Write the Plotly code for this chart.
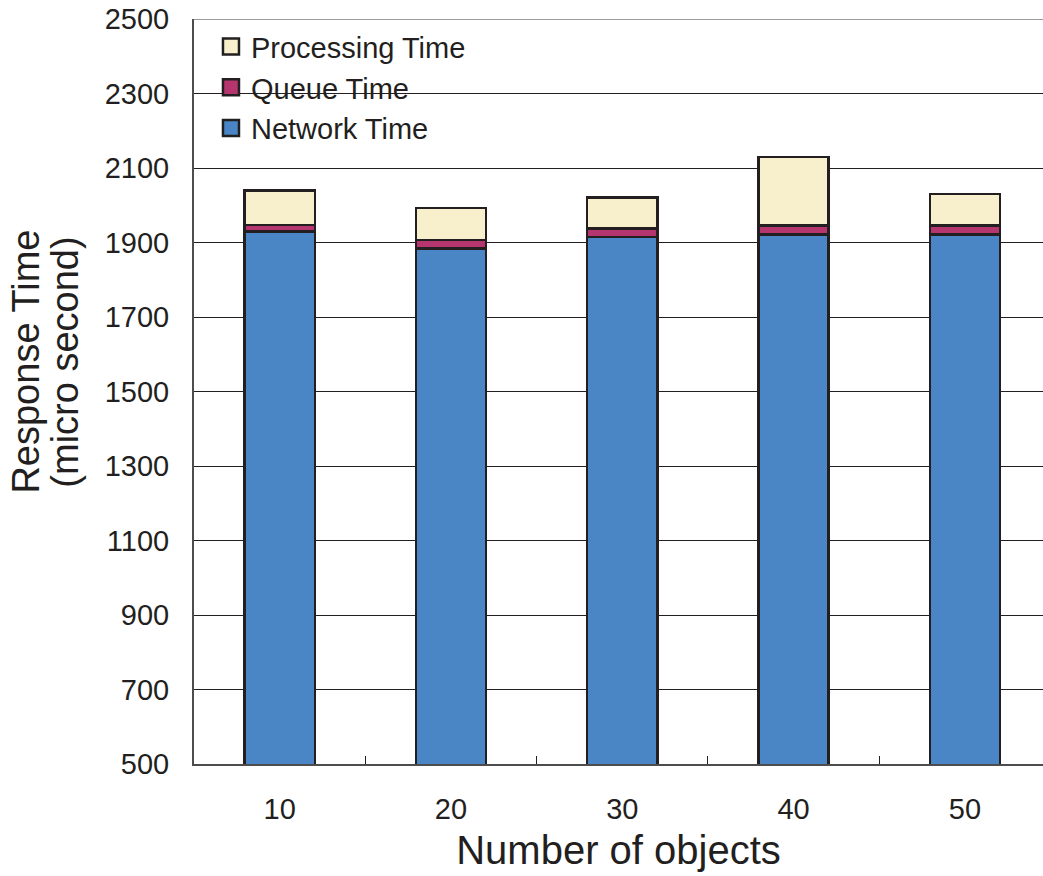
import plotly.graph_objects as go

# Response time breakdown per number of objects (micro seconds)
objects = ["10", "20", "30", "40", "50"]
network_time = [1930, 1884, 1915, 1922, 1922]
queue_time = [17, 23, 23, 23, 23]
processing_time = [92, 85, 83, 184, 85]

y_ticks = [500, 700, 900, 1100, 1300, 1500, 1700, 1900, 2100, 2300, 2500]
y_title_lines = ["Response Time", "(micro second)"]

FONT = "Liberation Sans, Arial, Helvetica, sans-serif"
INK = "#231f20"

series = [
    ("Network Time", network_time, "#4a86c5"),
    ("Queue Time", queue_time, "#b5366f"),
    ("Processing Time", processing_time, "#f8f0cc"),
]

fig = go.Figure()

# stacked bars
for name, values, color in series:
    fig.add_trace(go.Bar(
        x=objects, y=values, name=name, legendgroup=name,
        marker=dict(color=color, line=dict(color=INK, width=2.5)),
        width=0.41, showlegend=False,
    ))

# legend entries with larger square swatches, top entry = top of stack
for rank, (name, values, color) in enumerate(reversed(series)):
    fig.add_trace(go.Scatter(
        x=[None], y=[None], mode="markers", name=name, legendgroup=name,
        legendrank=rank + 1,
        marker=dict(symbol="square", size=16, color=color,
                    line=dict(color=INK, width=2.5)),
    ))

# rotated two-line y-axis title, tighter line spacing than a <br> title
title_x = [-0.198, -0.152]
annotations = [
    dict(text=line, xref="paper", yref="paper", x=xp, y=0.54,
         xanchor="center", yanchor="middle", textangle=-90, showarrow=False,
         font=dict(size=38, family=FONT, color=INK))
    for line, xp in zip(y_title_lines, title_x)
]

fig.update_layout(
    width=1043, height=876,
    margin=dict(l=194, r=0, t=19, b=112),
    paper_bgcolor="white", plot_bgcolor="white",
    barmode="stack",
    font=dict(family=FONT, color=INK, size=29),
    showlegend=True,
    legend=dict(
        x=0.02, y=0.997, xanchor="left", yanchor="top",
        bgcolor="rgba(0,0,0,0)", font=dict(size=29, family=FONT, color=INK),
        itemsizing="trace", tracegroupgap=0,
    ),
    xaxis=dict(
        type="category", range=[-0.5, 4.456],
        showline=True, linecolor="#4d4d4d", linewidth=2,
        ticks="inside", tickson="boundaries", ticklen=8, tickwidth=1,
        tickcolor=INK, showgrid=False,
        tickfont=dict(size=29), ticklabelstandoff=18,
        title=dict(text="Number of objects", font=dict(size=40), standoff=12),
    ),
    yaxis=dict(
        range=[500, 2500], tickvals=y_ticks,
        showline=True, linecolor="#4d4d4d", linewidth=2,
        ticks="", showgrid=True, gridcolor=INK, gridwidth=1,
        tickfont=dict(size=29), ticklabelstandoff=17,
        zeroline=False,
    ),
    annotations=annotations,
    shapes=[dict(type="line", xref="paper", yref="y", x0=0, x1=1,
                 y0=2500, y1=2500, line=dict(color="#9a9a9a", width=2),
                 layer="above")],
)

fig.write_html("out.html")
